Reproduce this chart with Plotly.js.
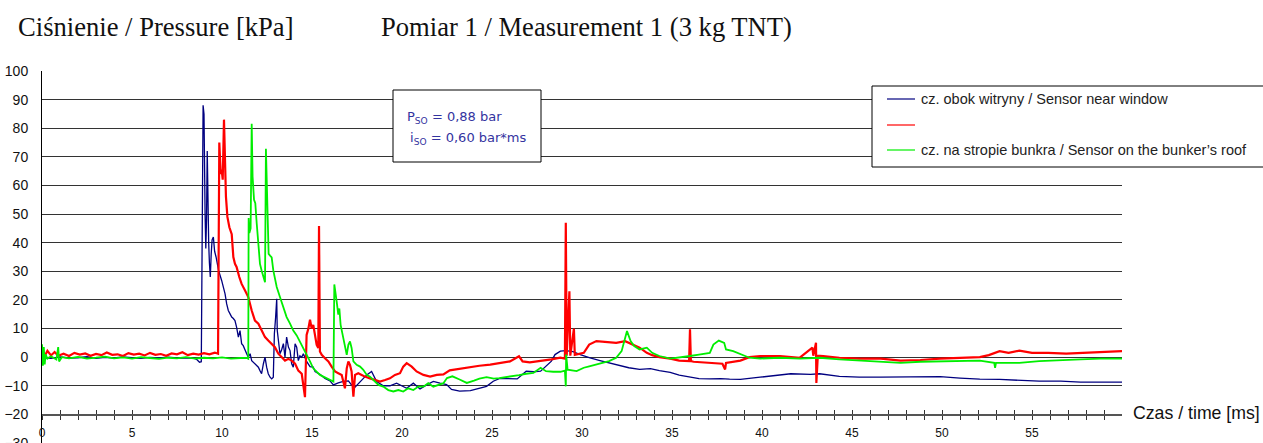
<!DOCTYPE html>
<html>
<head>
<meta charset="utf-8">
<script src="https://cdn.plot.ly/plotly-3.0.1.min.js"></script>
<style>html,body{margin:0;padding:0;background:#fff;overflow:hidden;}#chart{width:1263px;height:443px;}</style>
</head>
<body>
<div id="chart"></div>
<script>
// ---- data (time in ms, pressure in kPa) ----
const seriesNames = ["cz. obok witryny / Sensor near window", "", "cz. na stropie bunkra / Sensor on the bunker\u2019s roof"];
const seriesColors = ["#000080", "#ff0000", "#00ee00"];

const tBlue = [0,0.5,1,1.5,2,2.5,3,3.5,4,4.5,5,5.5,6,6.5,7,7.5,8,8.4,8.6,8.75,8.85,8.9,8.95,9.0,9.03,9.06,9.1,9.14,9.18,9.22,9.26,9.3,9.35,9.4,9.45,9.52,9.59,9.67,9.81,9.98,10.07,10.17,10.26,10.35,10.44,10.54,10.63,10.72,10.81,10.91,11.0,11.09,11.18,11.28,11.37,11.46,11.56,11.65,11.74,11.83,11.93,12.02,12.11,12.2,12.3,12.39,12.48,12.57,12.67,12.76,12.85,12.91,12.98,13.04,13.07,13.15,13.22,13.31,13.41,13.5,13.59,13.69,13.78,13.87,13.96,14.06,14.15,14.24,14.33,14.43,14.52,14.7,14.89,15.07,15.17,15.44,15.72,16.0,16.19,16.46,16.74,17.02,17.2,17.39,17.67,18.04,18.31,18.59,18.96,19.33,19.7,19.89,20.26,20.63,21.0,21.37,21.74,22.11,22.48,22.75,23.2,23.8,24.3,24.7,25.07,25.4,25.8,26.4,26.9,27.3,27.7,28.0,28.3,28.5,28.8,29.1,29.5,29.9,30.4,31.0,31.5,32.1,32.6,33.2,33.8,34.3,34.9,35.4,36.0,36.5,37.1,37.7,38.2,38.8,39.9,41.0,41.6,42.7,43.2,44.3,45.4,46.6,47.7,48.8,49.9,51.0,52.1,53.2,54.3,55.4,56.6,57.7,58.8,60];
const pBlue = [-0.2,-0.4,0.1,-0.3,-0.2,0.2,-0.4,-0.1,-0.3,0.1,-0.2,-0.4,-0.1,-0.3,0,-0.3,-0.2,-0.3,-0.8,-1.8,-1.6,50,88,85,57,50,38,48,72,45,40,33,28,36,41,42,37,35,30.3,26.8,24.5,22.1,18.6,16.3,15.2,14,13.5,12.8,10.5,7,9.3,4.7,4,2.3,1.2,0,1.2,-1.2,-1.8,-2.3,-3,-3.5,-4.7,-5.8,-2.3,0,-3.5,-5.8,-7,-7.6,-7,8.2,14,20.4,9.3,4.7,1.2,2.5,4.7,0,7,3.5,2.3,-2.3,-3.5,4.7,3.5,-1.2,0.5,0,1.2,-1.5,-3.3,-3.5,-5,-6,-7.4,-8.3,-9.7,-9,-8.5,-8.3,-9.7,-10.5,-8.5,-6.2,-5,-8.5,-10,-10,-9.1,-9.7,-10.9,-9.1,-11.1,-9.7,-8.5,-9.1,-9.6,-11.3,-11.9,-11.7,-11,-10.2,-8.4,-7.5,-7.5,-7.6,-4.9,-5.1,-4.9,-3.2,-1.4,0.9,2.1,2.3,1.9,0.9,-0.2,-1.2,-2,-2.8,-3.7,-4.3,-4,-4.7,-5.3,-6.3,-7,-7.5,-7.6,-7.5,-7.7,-7.8,-7,-6.3,-5.8,-6,-5.8,-6.7,-7,-7,-7,-6.8,-6.8,-7.3,-7.7,-7.8,-8.1,-8.4,-8.4,-8.7,-8.7,-8.7];

const tRed = [0,0.15,0.3,0.5,0.7,0.9,1.2,1.5,1.8,2.1,2.4,2.7,3.0,3.3,3.6,3.9,4.2,4.5,4.8,5.1,5.4,5.7,6.0,6.3,6.6,6.9,7.2,7.5,7.8,8.1,8.4,8.7,9.0,9.3,9.6,9.78,
  9.85,9.93,9.98,10.04,10.11,10.17,10.22,10.3,10.41,10.54,10.63,10.72,10.81,10.96,11.09,11.28,11.46,11.65,11.83,12.02,12.2,12.39,12.57,12.76,12.94,13.13,13.31,13.5,13.69,13.87,14.06,14.24,14.43,14.52,14.61,14.7,14.8,14.89,14.98,15.07,15.17,15.26,15.35,15.39,15.44,15.54,15.72,15.91,16.09,16.28,16.46,16.65,16.83,16.93,17.02,17.11,17.2,17.3,17.39,17.57,17.76,17.94,18.22,18.5,18.78,19.06,19.33,19.61,19.89,20.07,20.26,20.54,20.81,21.19,21.56,21.93,22.3,22.65,23.2,23.8,24.3,24.9,25.4,26.0,26.5,26.7,27.1,27.7,28.3,28.8,29.05,29.1,29.15,29.3,29.35,29.55,29.6,30.1,30.4,30.8,31.3,31.9,32.4,32.8,33.2,33.6,33.9,34.3,34.9,35.4,35.95,36.0,36.05,36.2,36.9,37.8,37.95,38.0,38.8,39.3,39.9,41.0,42.1,42.8,42.85,43.0,43.02,43.1,43.4,44.3,45.4,46.6,47.7,48.8,49.9,51.0,52.1,52.6,53.2,53.7,54.3,55.0,55.9,56.9,57.8,58.8,60];
const pRed = [1.5,0.3,2.2,0.6,1.8,0.5,1.2,0.4,1.5,0.9,1.3,0.5,1.1,0.7,1.6,0.8,1.0,0.4,1.4,0.9,1.2,0.6,1.5,0.8,1.1,0.5,1.3,1.0,1.7,0.7,1.2,0.9,1.4,1.0,1.6,1.2,
  75,64,65.5,62,83,72,56,49,45.4,43,35,32.6,31.5,28,25.6,23.3,21,16.3,12.8,11.7,9.3,7,5.8,4.7,3.5,1.2,0,-1.2,-0.6,-1.2,-2.3,-4.7,-5.8,-9.3,-14,7.8,10,13.1,10,11.3,6.7,4.3,3.2,45.8,2,0.8,-0.4,-1.5,-3.3,-5,-5.6,-6.2,-10.9,-3.9,-1.5,-2.7,-5,-13.8,-6.2,-5.6,-6.2,-6.8,-7.4,-8,-8.5,-8,-7.4,-6.2,-5.6,-3.3,-2.1,-3.3,-5,-6.2,-6.8,-6.2,-6,-4.6,-4,-3.6,-3,-2.6,-2,-1.5,0.3,-1.5,-1.8,-1.4,-0.8,-0.2,-0.5,47,0.5,23,0.5,10,0.8,1.5,4.4,5.6,5.4,5,5.6,4.4,3.3,1.5,0.7,0,-0.5,-1.2,-1.4,9.7,-1.4,-1.6,-2,-2.3,-4.3,-2,-1.2,0,0.4,0.4,-0.2,3.3,0.5,5,-9,0.5,0.4,-0.2,-0.5,-0.5,-1.2,-1,-0.5,-0.2,0,0.7,2.1,1.5,2.3,1.5,1.5,1.2,1.5,1.9,2.1];

const tGreen = [0,0.05,0.1,0.15,0.2,0.3,0.5,0.8,0.9,0.95,1.1,1.5,2,2.5,3,3.5,4,4.5,5,5.5,6,6.5,7,7.5,8,8.5,9,9.5,10,10.5,11,11.37,11.46,
  11.48,11.52,11.59,11.65,11.7,11.78,11.85,11.93,12.02,12.11,12.2,12.3,12.39,12.44,12.52,12.59,12.67,12.76,12.85,13.04,13.22,13.41,13.59,13.78,13.96,14.15,14.33,14.52,14.7,14.89,15.07,15.26,15.44,15.63,15.81,16.0,16.19,16.24,16.3,16.37,16.46,16.52,16.59,16.7,16.83,16.93,17.02,17.11,17.2,17.3,17.48,17.67,17.85,18.04,18.22,18.41,18.69,18.96,19.24,19.52,19.8,20.07,20.35,20.63,20.91,21.19,21.46,21.74,22.02,22.3,22.5,22.8,23.2,23.6,24.0,24.3,24.7,25.1,25.4,25.8,26.2,26.5,26.9,27.3,27.7,28.0,28.4,28.8,29.05,29.1,29.12,29.2,29.7,30.1,30.4,30.8,31.2,31.5,31.9,32.2,32.4,32.5,32.7,32.9,33.2,33.6,33.9,34.3,34.9,35.4,36.0,36.5,37.1,37.3,37.6,37.9,38.0,38.4,38.9,39.3,39.9,41.0,42.1,43.2,44.3,45.4,46.6,47.7,48.8,49.9,51.0,52.1,52.9,52.95,53.0,53.2,54.3,55.4,56.6,57.7,58.8,60];
const pGreen = [4.5,-3,3.5,-2.5,1,-0.5,0.3,-0.8,3.5,-1.5,0,-0.4,0.1,-0.5,-0.2,0.2,-0.4,-0.1,-0.5,0,-0.3,-0.6,-0.2,-0.4,0,-0.5,-0.2,-0.4,-0.1,-0.5,-0.3,-0.3,-0.6,
  48.6,43.4,45,81.6,63,55,53.8,46.6,39.6,32.6,30.3,28,26.2,72.8,46.6,36.1,35.5,34.9,30.3,24.5,21,17.5,14,11.7,9.3,7.6,5.5,3.2,0.8,-1.5,-3.9,-5,-6.2,-6.8,-7.4,-8,-8.5,25.4,23,19.5,14.9,17,11.3,7.8,3.2,0.8,4.3,5.5,3.2,-1.5,-2.7,-3.3,-4.4,-6.2,-6.8,-8,-9.7,-10.3,-11.5,-12,-11.5,-12,-10.9,-11.5,-10.3,-10.3,-9.1,-10.3,-9.7,-9.1,-7.3,-6.7,-7.8,-9,-8.2,-7.5,-7,-7.5,-7.3,-7,-6.7,-6.3,-5.8,-5.5,-3.7,-4.9,-5.1,-5.1,-4.7,-10.2,0.9,-4.4,-4.9,-3.7,-3.2,-2.6,-2,-1.4,-0.2,2.1,6.8,9.1,5.6,3.9,2.7,3.3,1.5,0.4,-0.5,-0.2,0.4,0.9,1.5,4.4,5.8,5,2.7,2.1,0.9,-0.2,-0.5,-0.2,-0.5,-0.2,-0.8,-1.2,-1.4,-2,-1.6,-1.4,-1.2,-1.2,-2,-3.7,-2,-2,-2,-1.4,-1.2,-0.8,-0.5,-0.5];

const yTicks = [-30,-20,-10,0,10,20,30,40,50,60,70,80,90,100];
const xTickVals = [0,1,2,3,4,5,6,7,8,9,10,11,12,13,14,15,16,17,18,19,20,21,22,23,24,25,26,27,28,29,30,31,32,33,34,35,36,37,38,39,40,41,42,43,44,45,46,47,48,49,50,51,52,53,54,55,56,57,58,59];

// ---- layout helpers (pixel -> paper) ----
const W = 1263, H = 443, ML = 42, MR = 141, MT = 71, MB = 0;
const PW = W - ML - MR, PH = H - MT - MB;
const X = px => (px - ML) / PW;
const Y = py => (H - MB - py) / PH;

const xTickText = xTickVals.map(v => (v % 5 === 0 ? String(v) : ""));

const traces = [
  {x: tBlue, y: pBlue, name: seriesNames[0], type: "scatter", mode: "lines",
   line: {color: seriesColors[0], width: 1.3}},
  {x: tRed, y: pRed, name: seriesNames[1], type: "scatter", mode: "lines",
   line: {color: seriesColors[1], width: 2.2}},
  {x: tGreen, y: pGreen, name: seriesNames[2], type: "scatter", mode: "lines",
   line: {color: seriesColors[2], width: 1.8}},
  {x: [], y: [], xaxis: "x2", showlegend: false, hoverinfo: "skip", type: "scatter", mode: "lines"}
];

const axisPos = (-20 - (-30)) / 130;
const sans = "Liberation Sans, Arial, sans-serif";

// legend drawn as a framed box: frame, sample lines and labels
const legTop = 86, legBottom = 167, legLeft = 872, legRight = 1275;
const legRows = [99, 125, 150];
const legendShapes = [
  {type: "rect", xref: "paper", yref: "paper", x0: X(legLeft), x1: X(legRight), y0: Y(legBottom), y1: Y(legTop),
   fillcolor: "#fff", line: {color: "#000", width: 1}, layer: "above"}
].concat(legRows.map((r, i) => ({type: "line", xref: "paper", yref: "paper",
   x0: X(887), x1: X(915), y0: Y(r), y1: Y(r), line: {color: seriesColors[i], width: 1.2}, layer: "above"})));
const legendTexts = legRows.map((r, i) => ({xref: "paper", yref: "paper", x: X(919), y: Y(r), xanchor: "left", yanchor: "middle",
   showarrow: false, text: seriesNames[i], font: {family: sans, size: 14.5, color: "#222"}}))
  .filter(a => a.text !== "");

const layout = {
  width: W, height: H,
  margin: {l: ML, r: MR, t: MT, b: MB, pad: 0},
  paper_bgcolor: "#fff", plot_bgcolor: "#fff",
  showlegend: false,
  xaxis: {
    range: [0, 60], anchor: "free", position: axisPos,
    tickmode: "array", tickvals: xTickVals, ticktext: xTickText,
    ticks: "outside", ticklen: 4, tickwidth: 1, tickcolor: "#333",
    showline: true, linecolor: "#555", linewidth: 1.5,
    showgrid: false, zeroline: false,
    tickfont: {family: sans, size: 12, color: "#111"}, ticklabelstandoff: 3
  },
  xaxis2: {
    range: [0, 60], overlaying: "x", matches: "x", anchor: "free", position: axisPos,
    tickmode: "array", tickvals: xTickVals.slice(1),
    ticks: "inside", ticklen: 4, tickwidth: 1, tickcolor: "#333",
    showticklabels: false, showline: false, showgrid: false, zeroline: false
  },
  yaxis: {
    range: [-30, 100], tickmode: "array", tickvals: yTicks,
    ticks: "", showgrid: true, gridcolor: "#333", gridwidth: 1,
    showline: true, linecolor: "#000", linewidth: 1, zeroline: false,
    tickfont: {family: sans, size: 14, color: "#111"},
    ticklabelstandoff: 10, ticklabeloverflow: "allow"
  },
  shapes: [
    {type: "rect", xref: "paper", yref: "paper", x0: X(393), x1: X(541), y0: Y(162), y1: Y(90),
     fillcolor: "#fff", line: {color: "#000", width: 1}, layer: "above"}
  ].concat(legendShapes),
  annotations: [
    {xref: "paper", yref: "paper", x: X(16), y: Y(27), xanchor: "left", yanchor: "middle", showarrow: false,
     text: "Ciśnienie / Pressure [kPa]", font: {family: "Liberation Serif, Times New Roman, serif", size: 26.6, color: "#111"}},
    {xref: "paper", yref: "paper", x: X(379), y: Y(27), xanchor: "left", yanchor: "middle", showarrow: false,
     text: "Pomiar 1 / Measurement 1 (3 kg TNT)", font: {family: "Liberation Serif, Times New Roman, serif", size: 26.6, color: "#111"}},
    {xref: "paper", yref: "paper", x: X(1131), y: Y(413), xanchor: "left", yanchor: "middle", showarrow: false,
     text: "Czas / time [ms]", font: {family: sans, size: 17.7, color: "#111"}},
    {xref: "paper", yref: "paper", x: X(405), y: Y(117), xanchor: "left", yanchor: "middle", showarrow: false,
     text: "P<sub>SO</sub> = 0,88 bar", font: {family: "DejaVu Sans, sans-serif", size: 13, color: "#3333a0"}},
    {xref: "paper", yref: "paper", x: X(408), y: Y(138), xanchor: "left", yanchor: "middle", showarrow: false,
     text: "i<sub>SO</sub> = 0,60 bar*ms", font: {family: "DejaVu Sans, sans-serif", size: 13, color: "#3333a0"}}
  ].concat(legendTexts)
};

Plotly.newPlot("chart", traces, layout, {displayModeBar: false, staticPlot: true});
</script>
</body>
</html>
